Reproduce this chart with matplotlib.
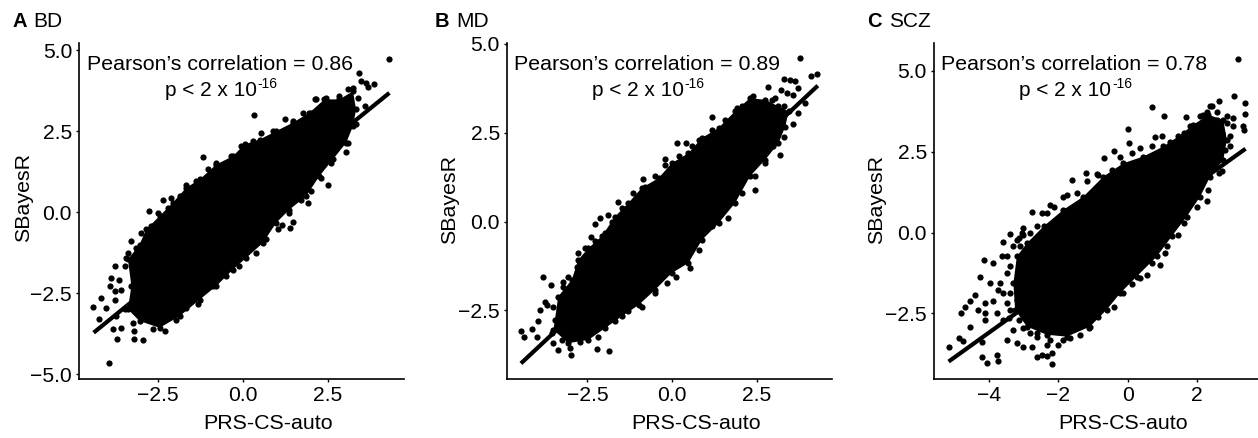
#!/usr/bin/env python3
import matplotlib
matplotlib.use('Agg')
import matplotlib.pyplot as plt

W, H = 1258, 438
plt.rcParams['font.family'] = ['Liberation Sans', 'DejaVu Sans']

# Panel A: outline of the solid cloud, rim points, loose points, fit line
a_edge_x = [-3.38, -3.28, -3.38, -3.04, -2.84, -2.45, -2.06, -1.67, -1.27, -0.78, -0.29, 0.05, 0.49, 0.98, 1.47, 1.96,
            2.4, 2.84, 3.24, 3.33, 3.24, 3.04, 2.65, 2.25, 1.86, 1.37, 0.98, 0.59, 0.1, -0.29, -0.78, -1.27, -1.86,
            -2.45, -3.04]
a_edge_y = [-3.0, -2.28, -1.46, -1.0, -0.53, -0.12, 0.29, 0.75, 1.01, 1.47, 1.73, 2.09, 2.24, 2.5, 2.76, 3.07,
            3.48, 3.48, 3.73, 3.17, 2.65, 2.14, 1.63, 1.11, 0.49, 0.08, -0.33, -0.95, -1.41, -1.77, -2.28, -2.7, -3.21,
            -3.57, -3.36]
a_rim_x = [-3.38, -3.14, -2.99, -2.7, -2.5, -2.21, -1.86, -1.67, -1.37, -1.03, -0.78, -0.49, -0.34, -0.05, 0.29, 0.54,
           0.88, 1.23, 1.47, 1.76, 2.01, 2.11, 2.45, 3.09, 2.84, 2.6, 2.3, 2.01, 1.72, 1.37, 1.03, 0.69, 0.39, -0.1,
           -0.49, -0.88, -1.32, -1.67, -1.96, -2.94]
a_rim_y = [-1.26, -1.1, -0.64, -0.43, -0.02, 0.13, 0.49, 0.85, 0.96, 1.32, 1.52, 1.52, 1.73, 2.04, 2.19, 2.45,
           2.5, 2.86, 2.81, 3.07, 3.07, 3.48, 3.51, 2.14, 2.14, 1.52, 1.06, 0.65, 0.39, -0.02, -0.53, -0.84, -1.26, -1.67,
           -1.98, -2.28, -2.85, -2.95, -3.33, -3.11]
a_pts_x = [4.31, 3.41, 0.32, -1.16, 2.5, 1.91, 1.47, 1.4, 1.16, 3.02, -3.94, -4.41, -4.17, -3.19, -2.94, -3.71, -3.28,
           -2.35, -2.11, -2.75, 3.87, 3.63, 3.48, 3.24, 3.09, 2.84, 2.16, 3.68, 3.38, 3.58, 3.33, -3.77, -3.43, -3.87,
           -3.92, -3.77, -4.02, -3.77, -3.58, -3.48, -3.63, -4.22, -3.82, -3.58, -3.19, -2.65, -2.3, -3.48, -3.73, -3.24]
a_pts_y = [4.74, 4.28, 2.99, 1.69, 0.85, 0.27, -0.3, -0.49, -0.4, 1.85, -4.67, -2.92, -2.64, -3.93, -3.96, -3.91, -0.88,
           0.39, 0.44, 0.02, 3.94, 3.99, 4.04, 3.84, 3.79, 3.58, 3.48, 3.87, 3.53, 3.27, 2.71, -1.67, -1.41, -2.03,
           -2.28, -2.44, -2.95, -2.7, -2.39, -1.67, -2.08, -3.31, -3.62, -3.57, -3.67, -3.62, -3.67, -3.0, -3.21, -3.42]
a_fit_x = [-4.39, 4.31]
a_fit_y = [-3.72, 3.68]

# Panel B
b_edge_x = [-3.36, -2.96, -2.77, -2.47, -2.08, -1.68, -1.29, -0.9, -0.4, -0.01, 0.48, 0.88, 1.37, 1.86, 2.3, 2.75,
            3.14, 3.44, 3.34, 3.14, 2.75, 2.3, 1.86, 1.37, 0.88, 0.48, -0.01, -0.5, -0.99, -1.49, -1.98, -2.47, -3.06,
            -3.5]
b_edge_y = [-2.11, -1.64, -1.08, -0.75, -0.42, 0.14, 0.52, 0.94, 1.22, 1.64, 1.92, 2.35, 2.63, 3.1, 3.47, 3.42,
            3.24, 3.1, 2.67, 2.2, 1.74, 1.27, 0.52, -0.05, -0.52, -1.17, -1.45, -1.92, -2.35, -2.67, -3.0, -3.33, -3.42,
            -3.05]
b_rim_x = [-3.21, -3.06, -2.81, -2.77, -2.57, -2.27, -1.98, -1.78, -1.49, -1.14, -0.8, -0.5, -0.21, 0.19, 0.58, 0.78,
           1.17, 1.56, 1.91, 2.06, 2.4, 2.94, 3.29, 3.29, 2.99, 2.75, 2.45, 2.06, 1.66, 1.17, 0.78, 0.29, -0.16, -0.5,
           -0.9, -1.29, -1.68, -2.18, -2.72, -3.26, -3.45, -3.5]
b_rim_y = [-1.83, -1.55, -1.27, -0.89, -0.75, -0.56, -0.33, 0.0, 0.38, 0.8, 0.98, 1.27, 1.59, 1.83, 2.11, 2.3,
           2.58, 2.86, 3.19, 3.24, 3.52, 3.42, 3.24, 2.39, 2.11, 1.64, 1.27, 0.8, 0.09, -0.14, -0.8, -0.98, -1.74, -2.02,
           -2.39, -2.53, -2.81, -3.24, -3.38, -3.33, -2.77, -2.39]
b_pts_x = [3.76, 4.29, 4.1, 3.29, 3.48, 3.63, 2.82, 3.71, 3.22, 3.39, 3.58, 3.04, 3.93, 3.71, 3.58, 3.19, 2.45, 1.19,
           0.14, 0.4, -0.21, -0.85, -1.61, -1.88, -2.13, -2.27, -2.4, -3.82, -3.58, -3.75, -3.9, -3.95, -4.14, -4.46,
           -4.38, -4.0, -3.55, -3.5, -3.36, -2.98, -3.01, -2.22, -1.86, 0.53, 0.11, -3.21, -3.7]
b_pts_y = [4.59, 4.16, 4.1, 4.01, 3.97, 3.94, 3.78, 3.75, 3.71, 3.61, 3.56, 3.47, 3.33, 3.05, 2.75, 1.88, 0.89, 2.94,
           2.22, 2.22, 1.75, 1.2, 0.55, 0.19, 0.09, -0.07, -0.44, -1.55, -1.78, -2.25, -2.49, -2.81, -3.03, -3.08,
           -3.26, -3.26, -3.14, -3.42, -3.61, -3.76, -3.56, -3.58, -3.63, -1.31, -1.57, -1.69, -2.35]
b_fit_x = [-4.46, 4.3]
b_fit_y = [-3.99, 3.82]

# Panel C
c_edge_x = [-3.25, -3.3, -3.2, -2.91, -2.43, -1.86, -1.28, -0.7, -0.13, 0.45, 1.03, 1.46, 1.89, 2.33, 2.76, 2.86,
            2.76, 2.38, 2.09, 1.7, 1.27, 0.84, 0.26, -0.22, -0.61, -1.09, -1.76, -2.34, -2.91]
c_edge_y = [-2.39, -1.57, -0.74, -0.33, 0.19, 0.7, 1.11, 1.73, 2.14, 2.35, 2.66, 2.97, 3.33, 3.64, 3.48, 2.87,
            2.25, 1.73, 1.11, 0.49, -0.12, -0.74, -1.36, -1.88, -2.39, -2.91, -3.22, -3.16, -2.91]
c_rim_x = [-3.11, -3.01, -2.63, -2.34, -2.14, -1.76, -1.47, -1.18, -0.85, -0.46, -0.22, 0.12, 0.36, 0.69, 1.22, 1.61,
           1.8, 2.09, 2.42, 2.57, 2.86, 3.05, 2.95, 2.71, 2.33, 1.99, 1.61, 1.13, 0.69, 0.36, -0.13, -0.41, -0.85,
           -1.38, -1.86, -2.63, 2.86, 2.71, 2.95, 2.81, 2.57, 2.28, 2.38, 2.18, 2.62, -3.2, -3.39, -3.39, -3.49, -3.3,
           -3.15, -2.82, -3.06, -3.68, -3.59, -3.49, -3.44, -3.15, -3.01, -2.63, -2.24, -1.66]
c_rim_y = [-0.43, -0.07, 0.19, 0.6, 0.8, 1.16, 1.22, 1.58, 1.78, 1.94, 2.35, 2.45, 2.61, 2.66, 2.81, 3.07,
           3.28, 3.59, 3.9, 3.74, 3.59, 3.28, 2.66, 1.89, 1.32, 0.8, 0.29, -0.43, -0.95, -1.41, -1.88, -2.29, -2.6,
           -3.16, -3.32, -3.11, 3.38, 3.07, 2.97, 2.56, 3.48, 3.74, 3.92, 3.64, 1.84, -2.08, -2.39, -1.05, -0.74, -0.43,
           -0.18, -0.02, -0.02, -1.57, -1.88, -2.19, -2.65, -2.7, -2.96, -3.22, -3.32, -3.27]
c_pts_x = [3.19, 2.63, 3.06, 3.38, 3.38, 3.34, 3.37, 3.05, 0.69, 1.04, 1.67, 0.0, 0.79, 1.0, 0.05, -0.41, -0.68, -0.89,
           -1.2, -1.62, -1.86, -2.24, -2.76, -2.48, -3.41, -3.01, -3.59, -4.16, -3.88, -3.63, 2.3, 1.46, 1.08, 0.93,
           0.55, 0.12, -1.13, -4.26, -3.97, -3.73, -4.4, -4.55, -4.69, -4.81, -4.31, -4.12, -4.12, -3.88, -3.78, -4.12,
           -4.55, -4.88, -5.17, -4.76, -4.21, -4.21, -4.06, -3.76, -3.74, -3.49, -3.2, -3.01, -2.77, -2.63, -2.48,
           -2.34, -2.19, -2.19, -3.3, -2.82, -2.34, -2.0, -3.59, -3.49, -3.39, -3.2]
c_pts_y = [5.38, 4.06, 4.21, 4.0, 3.67, 3.3, 3.18, 3.54, 3.89, 3.59, 3.56, 3.21, 2.95, 2.97, 2.76, 2.51, 2.29, 1.81,
           1.84, 1.63, 1.11, 0.86, 0.62, 0.6, -0.05, 0.13, -0.3, -0.85, -0.95, -0.74, 0.96, -0.07, -0.64, -1.0,
           -1.31, -1.6, -2.96, -1.36, -1.57, -1.77, -1.93, -2.13, -2.29, -2.49, -2.39, -2.49, -2.19, -2.13, -2.49, -2.7,
           -2.91, -3.27, -3.53, -3.34, -3.37, -3.84, -4.04, -3.78, -3.96, -3.32, -3.42, -3.53, -3.53, -3.86, -3.78,
           -3.81, -4.06, -3.73, -3.01, -3.11, -3.47, -3.47, -2.7, -1.26, -1.88, -0.23]
c_fit_x = [-5.17, 3.4]
c_fit_y = [-3.99, 2.59]

a_xticks = [-2.5, 0.0, 2.5]
a_yticks = [-5.0, -2.5, 0.0, 2.5, 5.0]
b_xticks = [-2.5, 0.0, 2.5]
b_yticks = [-2.5, 0.0, 2.5, 5.0]
c_xticks = [-4, -2, 0, 2]
c_yticks = [-2.5, 0.0, 2.5, 5.0]


def fx(px):
    return px / W


def fy(py):
    return 1 - py / H


def panel(fig, box, xlim, ylim, edge, rim, pts, fit, xticks, yticks, xfmt, letter, name, r, xl, yl):
    left, top, right, bottom = box
    ax = fig.add_axes([fx(left), fy(bottom), fx(right - left), (bottom - top) / H])
    ax.fill(edge[0], edge[1], color='black', lw=0)
    ax.scatter(edge[0], edge[1], s=20, color='black', lw=0)
    ax.scatter(rim[0], rim[1], s=20, color='black', lw=0)
    ax.scatter(pts[0], pts[1], s=20, color='black', lw=0)
    ax.plot(fit[0], fit[1], color='black', lw=3, solid_capstyle='butt')
    ax.set_xlim(xlim)
    ax.set_ylim(ylim)
    ax.set_xticks(xticks)
    ax.set_yticks(yticks)
    ax.set_xticklabels([(xfmt % t).replace('-', '\u2212') for t in xticks])
    ax.set_yticklabels([('%.1f' % t).replace('-', '\u2212') for t in yticks])
    ax.tick_params(labelsize=15.2, length=2, width=1, pad=3, colors='black')
    for s in ['top', 'right']:
        ax.spines[s].set_visible(False)
    for s in ['left', 'bottom']:
        ax.spines[s].set_linewidth(1.2)
    ax.set_xlabel('PRS-CS-auto', fontsize=15.4)
    ax.set_ylabel('SBayesR', fontsize=15.4)
    ax.xaxis.set_label_coords(fx(xl[0]), fy(xl[1]), transform=fig.transFigure)
    ax.yaxis.set_label_coords(fx(yl[0]), fy(yl[1]), transform=fig.transFigure)

    fig.text(fx(letter[0]), fy(27), letter[1], fontsize=14.5, fontweight='bold', va='baseline')
    fig.text(fx(letter[2]), fy(27), name, fontsize=15, va='baseline')
    fig.text(fx(r[0]), fy(70), 'Pearson\u2019s correlation = ' + r[1], fontsize=15.4, va='baseline')
    fig.text(fx(r[2]), fy(95.5), 'p < 2 x 10', fontsize=15, va='baseline')
    fig.text(fx(r[3]), fy(88), '-16', fontsize=10, va='baseline')


def main():
    fig = plt.figure(figsize=(W / 100, H / 100), dpi=100)
    panel(fig, (79, 43, 404, 378.7), (-4.82, 4.74), (-5.14, 5.22),
          (a_edge_x, a_edge_y), (a_rim_x, a_rim_y), (a_pts_x, a_pts_y), (a_fit_x, a_fit_y), a_xticks, a_yticks, '%.1f',
          (13, 'A', 33), 'BD', (87, '0.86', 165, 257), (268, 414), (33, 198))
    panel(fig, (506.7, 43, 831.7, 378.7), (-4.88, 4.71), (-4.42, 5.02),
          (b_edge_x, b_edge_y), (b_rim_x, b_rim_y), (b_pts_x, b_pts_y), (b_fit_x, b_fit_y), b_xticks, b_yticks, '%.1f',
          (435, 'B', 456), 'MD', (514, '0.89', 591.7, 684), (696, 414), (459, 200))
    panel(fig, (933.7, 43, 1258, 378.7), (-5.6, 3.76), (-4.52, 5.86),
          (c_edge_x, c_edge_y), (c_rim_x, c_rim_y), (c_pts_x, c_pts_y), (c_fit_x, c_fit_y), c_xticks, c_yticks, '%d',
          (867, 'C', 889), 'SCZ', (941, '0.78', 1019, 1112), (1123, 414), (886, 200))
    fig.savefig('out.png', dpi=100)


if __name__ == '__main__':
    main()
